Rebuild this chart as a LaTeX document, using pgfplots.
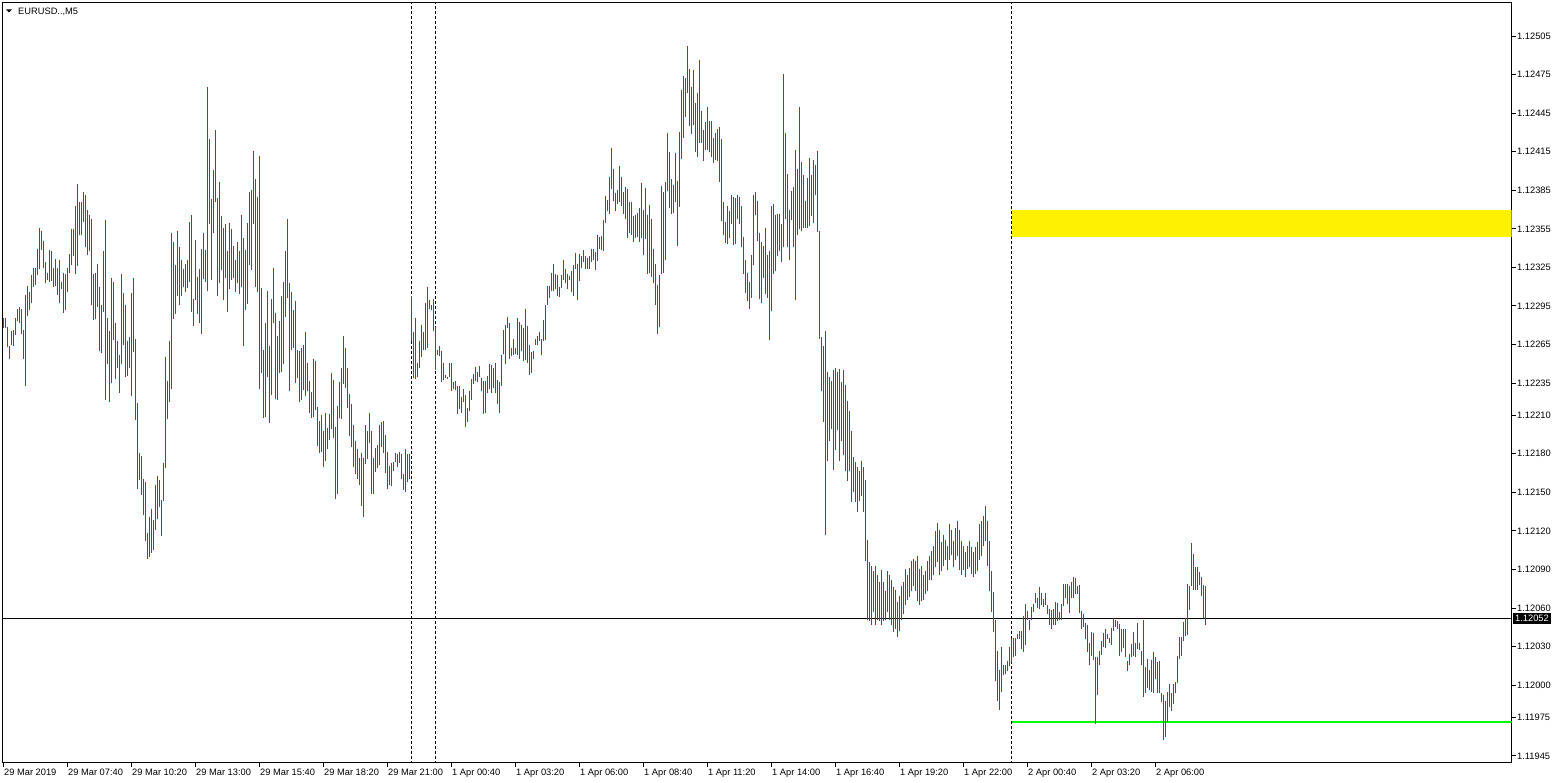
\documentclass[border=0pt]{standalone}
\usepackage{fontspec}
\setmainfont{Liberation Sans}
\usepackage{pgfplots}
\usepackage{pgfplotstable}
\pgfplotsset{compat=1.18}
\newcommand\tlfont{\fontsize{9.3}{11}\selectfont}

% EURUSD M5 bars: low high, one row per bar (bar index = row number)
\pgfplotstableread[row sep=\\]{
l h\\
1.12278 1.12286\\ 1.12278 1.12286\\ 1.12264 1.12280\\ 1.12255 1.12265\\ 1.12265 1.12276\\ 1.12265 1.12277\\ 1.12272 1.12286\\ 1.12283 1.12293\\
1.12282 1.12294\\ 1.12274 1.12293\\ 1.12254 1.12276\\ 1.12233 1.12304\\ 1.12288 1.12311\\ 1.12293 1.12307\\ 1.12297 1.12319\\ 1.12310 1.12325\\
1.12312 1.12325\\ 1.12320 1.12340\\ 1.12325 1.12357\\ 1.12339 1.12354\\ 1.12325 1.12346\\ 1.12314 1.12331\\ 1.12316 1.12322\\ 1.12314 1.12339\\
1.12316 1.12339\\ 1.12310 1.12325\\ 1.12311 1.12332\\ 1.12304 1.12325\\ 1.12297 1.12331\\ 1.12309 1.12315\\ 1.12290 1.12321\\ 1.12293 1.12321\\
1.12307 1.12326\\ 1.12321 1.12336\\ 1.12328 1.12356\\ 1.12335 1.12356\\ 1.12320 1.12373\\ 1.12327 1.12391\\ 1.12351 1.12377\\ 1.12351 1.12377\\
1.12360 1.12384\\ 1.12341 1.12382\\ 1.12335 1.12370\\ 1.12339 1.12367\\ 1.12296 1.12363\\ 1.12285 1.12321\\ 1.12286 1.12322\\ 1.12295 1.12329\\
1.12260 1.12310\\ 1.12260 1.12297\\ 1.12290 1.12338\\ 1.12223 1.12363\\ 1.12251 1.12287\\ 1.12222 1.12277\\ 1.12236 1.12318\\ 1.12269 1.12314\\
1.12240 1.12283\\ 1.12248 1.12269\\ 1.12229 1.12258\\ 1.12251 1.12321\\ 1.12265 1.12305\\ 1.12241 1.12297\\ 1.12241 1.12268\\ 1.12248 1.12272\\
1.12225 1.12305\\ 1.12260 1.12318\\ 1.12207 1.12270\\ 1.12153 1.12220\\ 1.12160 1.12181\\ 1.12148 1.12178\\ 1.12132 1.12160\\ 1.12113 1.12159\\
1.12099 1.12119\\ 1.12100 1.12131\\ 1.12104 1.12138\\ 1.12106 1.12129\\ 1.12121 1.12156\\ 1.12130 1.12163\\ 1.12139 1.12160\\ 1.12118 1.12146\\
1.12145 1.12174\\ 1.12169 1.12255\\ 1.12208 1.12238\\ 1.12220 1.12268\\ 1.12231 1.12352\\ 1.12286 1.12346\\ 1.12290 1.12328\\ 1.12304 1.12354\\
1.12297 1.12342\\ 1.12303 1.12331\\ 1.12311 1.12325\\ 1.12307 1.12329\\ 1.12309 1.12331\\ 1.12314 1.12360\\ 1.12290 1.12366\\ 1.12279 1.12300\\
1.12300 1.12346\\ 1.12290 1.12319\\ 1.12283 1.12325\\ 1.12274 1.12340\\ 1.12316 1.12352\\ 1.12314 1.12339\\ 1.12307 1.12466\\ 1.12360 1.12426\\
1.12317 1.12380\\ 1.12353 1.12402\\ 1.12377 1.12433\\ 1.12304 1.12380\\ 1.12313 1.12392\\ 1.12324 1.12366\\ 1.12300 1.12356\\ 1.12318 1.12360\\
1.12290 1.12338\\ 1.12309 1.12360\\ 1.12316 1.12356\\ 1.12318 1.12343\\ 1.12307 1.12332\\ 1.12314 1.12346\\ 1.12306 1.12339\\ 1.12311 1.12367\\
1.12265 1.12349\\ 1.12292 1.12339\\ 1.12297 1.12360\\ 1.12327 1.12384\\ 1.12324 1.12386\\ 1.12360 1.12417\\ 1.12311 1.12395\\ 1.12306 1.12380\\
1.12232 1.12413\\ 1.12244 1.12310\\ 1.12209 1.12262\\ 1.12209 1.12282\\ 1.12240 1.12307\\ 1.12205 1.12265\\ 1.12226 1.12301\\ 1.12283 1.12326\\
1.12223 1.12290\\ 1.12223 1.12273\\ 1.12244 1.12284\\ 1.12244 1.12303\\ 1.12250 1.12314\\ 1.12288 1.12339\\ 1.12302 1.12363\\ 1.12230 1.12314\\
1.12262 1.12307\\ 1.12264 1.12293\\ 1.12236 1.12300\\ 1.12240 1.12262\\ 1.12222 1.12262\\ 1.12222 1.12263\\ 1.12230 1.12265\\ 1.12226 1.12276\\
1.12230 1.12252\\ 1.12212 1.12237\\ 1.12209 1.12229\\ 1.12209 1.12254\\ 1.12214 1.12252\\ 1.12186 1.12216\\ 1.12181 1.12206\\ 1.12183 1.12212\\
1.12171 1.12199\\ 1.12176 1.12213\\ 1.12185 1.12201\\ 1.12192 1.12212\\ 1.12200 1.12244\\ 1.12193 1.12238\\ 1.12146 1.12202\\ 1.12149 1.12217\\
1.12209 1.12237\\ 1.12208 1.12248\\ 1.12234 1.12272\\ 1.12232 1.12263\\ 1.12216 1.12247\\ 1.12194 1.12227\\ 1.12187 1.12220\\ 1.12171 1.12203\\
1.12165 1.12191\\ 1.12160 1.12184\\ 1.12156 1.12177\\ 1.12139 1.12181\\ 1.12132 1.12178\\ 1.12173 1.12203\\ 1.12177 1.12199\\ 1.12188 1.12212\\
1.12149 1.12198\\ 1.12149 1.12177\\ 1.12166 1.12185\\ 1.12170 1.12188\\ 1.12172 1.12203\\ 1.12185 1.12205\\ 1.12181 1.12206\\ 1.12165 1.12195\\
1.12153 1.12182\\ 1.12156 1.12171\\ 1.12156 1.12174\\ 1.12167 1.12174\\ 1.12173 1.12180\\ 1.12170 1.12180\\ 1.12173 1.12181\\ 1.12162 1.12181\\
1.12153 1.12166\\ 1.12152 1.12185\\ 1.12159 1.12181\\ 1.12162 1.12181\\ 1.12268 1.12303\\ 1.12240 1.12276\\ 1.12239 1.12286\\ 1.12240 1.12251\\
1.12247 1.12268\\ 1.12257 1.12282\\ 1.12262 1.12276\\ 1.12262 1.12298\\ 1.12264 1.12311\\ 1.12293 1.12300\\ 1.12293 1.12297\\ 1.12276 1.12301\\
1.12246 1.12279\\ 1.12257 1.12261\\ 1.12257 1.12265\\ 1.12237 1.12261\\ 1.12237 1.12251\\ 1.12240 1.12242\\ 1.12239 1.12241\\ 1.12241 1.12252\\
1.12230 1.12252\\ 1.12230 1.12236\\ 1.12230 1.12237\\ 1.12212 1.12234\\ 1.12216 1.12234\\ 1.12212 1.12224\\ 1.12221 1.12231\\ 1.12202 1.12227\\
1.12206 1.12217\\ 1.12213 1.12229\\ 1.12222 1.12238\\ 1.12234 1.12242\\ 1.12237 1.12248\\ 1.12237 1.12245\\ 1.12240 1.12248\\ 1.12230 1.12240\\
1.12211 1.12237\\ 1.12212 1.12237\\ 1.12229 1.12242\\ 1.12231 1.12251\\ 1.12228 1.12250\\ 1.12233 1.12248\\ 1.12229 1.12252\\ 1.12219 1.12238\\
1.12212 1.12236\\ 1.12234 1.12258\\ 1.12258 1.12276\\ 1.12251 1.12282\\ 1.12278 1.12287\\ 1.12255 1.12283\\ 1.12257 1.12263\\ 1.12258 1.12270\\
1.12258 1.12263\\ 1.12258 1.12287\\ 1.12254 1.12283\\ 1.12260 1.12280\\ 1.12254 1.12279\\ 1.12254 1.12294\\ 1.12251 1.12280\\ 1.12241 1.12265\\
1.12244 1.12261\\ 1.12255 1.12261\\ 1.12265 1.12270\\ 1.12265 1.12272\\ 1.12268 1.12275\\ 1.12258 1.12270\\ 1.12268 1.12284\\ 1.12269 1.12296\\
1.12296 1.12311\\ 1.12302 1.12311\\ 1.12307 1.12321\\ 1.12307 1.12328\\ 1.12309 1.12321\\ 1.12303 1.12319\\ 1.12303 1.12311\\ 1.12309 1.12319\\
1.12316 1.12331\\ 1.12314 1.12325\\ 1.12309 1.12321\\ 1.12316 1.12319\\ 1.12306 1.12322\\ 1.12304 1.12328\\ 1.12325 1.12338\\ 1.12300 1.12328\\
1.12314 1.12335\\ 1.12325 1.12334\\ 1.12330 1.12339\\ 1.12325 1.12335\\ 1.12325 1.12333\\ 1.12325 1.12335\\ 1.12330 1.12340\\ 1.12332 1.12340\\
1.12324 1.12338\\ 1.12330 1.12350\\ 1.12341 1.12350\\ 1.12339 1.12350\\ 1.12339 1.12363\\ 1.12360 1.12381\\ 1.12369 1.12378\\ 1.12367 1.12396\\
1.12387 1.12419\\ 1.12377 1.12402\\ 1.12370 1.12384\\ 1.12374 1.12385\\ 1.12377 1.12405\\ 1.12374 1.12396\\ 1.12367 1.12384\\ 1.12363 1.12388\\
1.12349 1.12387\\ 1.12353 1.12377\\ 1.12351 1.12377\\ 1.12346 1.12366\\ 1.12349 1.12367\\ 1.12349 1.12368\\ 1.12346 1.12373\\ 1.12348 1.12391\\
1.12335 1.12370\\ 1.12348 1.12388\\ 1.12321 1.12367\\ 1.12321 1.12374\\ 1.12318 1.12363\\ 1.12313 1.12340\\ 1.12297 1.12329\\ 1.12274 1.12312\\
1.12279 1.12319\\ 1.12320 1.12388\\ 1.12321 1.12384\\ 1.12332 1.12393\\ 1.12385 1.12430\\ 1.12372 1.12416\\ 1.12366 1.12393\\ 1.12367 1.12389\\
1.12376 1.12414\\ 1.12342 1.12393\\ 1.12372 1.12430\\ 1.12409 1.12463\\ 1.12427 1.12475\\ 1.12443 1.12473\\ 1.12462 1.12498\\ 1.12436 1.12480\\
1.12430 1.12466\\ 1.12436 1.12479\\ 1.12416 1.12454\\ 1.12411 1.12461\\ 1.12423 1.12487\\ 1.12422 1.12447\\ 1.12409 1.12433\\ 1.12416 1.12438\\
1.12416 1.12450\\ 1.12416 1.12440\\ 1.12412 1.12440\\ 1.12408 1.12427\\ 1.12409 1.12430\\ 1.12409 1.12434\\ 1.12392 1.12435\\ 1.12362 1.12426\\
1.12351 1.12377\\ 1.12344 1.12360\\ 1.12344 1.12374\\ 1.12349 1.12370\\ 1.12360 1.12382\\ 1.12344 1.12381\\ 1.12344 1.12380\\ 1.12363 1.12381\\
1.12359 1.12380\\ 1.12342 1.12374\\ 1.12320 1.12349\\ 1.12306 1.12332\\ 1.12299 1.12321\\ 1.12293 1.12314\\ 1.12302 1.12336\\ 1.12326 1.12381\\
1.12366 1.12384\\ 1.12346 1.12377\\ 1.12302 1.12353\\ 1.12299 1.12346\\ 1.12317 1.12342\\ 1.12306 1.12357\\ 1.12302 1.12335\\ 1.12269 1.12338\\
1.12292 1.12374\\ 1.12321 1.12375\\ 1.12323 1.12367\\ 1.12335 1.12368\\ 1.12338 1.12367\\ 1.12330 1.12360\\ 1.12342 1.12477\\ 1.12363 1.12430\\
1.12341 1.12398\\ 1.12331 1.12370\\ 1.12363 1.12386\\ 1.12341 1.12388\\ 1.12300 1.12417\\ 1.12351 1.12402\\ 1.12356 1.12451\\ 1.12353 1.12407\\
1.12357 1.12398\\ 1.12356 1.12377\\ 1.12356 1.12395\\ 1.12359 1.12412\\ 1.12366 1.12398\\ 1.12360 1.12409\\ 1.12383 1.12406\\ 1.12353 1.12416\\
1.12269 1.12353\\ 1.12230 1.12272\\ 1.12206 1.12265\\ 1.12117 1.12276\\ 1.12175 1.12245\\ 1.12191 1.12241\\ 1.12199 1.12237\\ 1.12167 1.12245\\
1.12183 1.12247\\ 1.12199 1.12244\\ 1.12175 1.12247\\ 1.12191 1.12237\\ 1.12179 1.12245\\ 1.12167 1.12234\\ 1.12160 1.12222\\ 1.12167 1.12214\\
1.12144 1.12199\\ 1.12152 1.12179\\ 1.12144 1.12175\\ 1.12136 1.12171\\ 1.12144 1.12167\\ 1.12148 1.12175\\ 1.12136 1.12171\\ 1.12097 1.12160\\
1.12051 1.12113\\ 1.12051 1.12097\\ 1.12047 1.12093\\ 1.12058 1.12090\\ 1.12047 1.12093\\ 1.12051 1.12086\\ 1.12051 1.12082\\ 1.12047 1.12090\\
1.12051 1.12082\\ 1.12051 1.12074\\ 1.12058 1.12090\\ 1.12051 1.12086\\ 1.12047 1.12082\\ 1.12043 1.12078\\ 1.12044 1.12074\\ 1.12039 1.12066\\
1.12043 1.12070\\ 1.12051 1.12078\\ 1.12057 1.12082\\ 1.12062 1.12090\\ 1.12066 1.12086\\ 1.12070 1.12093\\ 1.12074 1.12097\\ 1.12078 1.12099\\
1.12074 1.12097\\ 1.12066 1.12101\\ 1.12062 1.12090\\ 1.12066 1.12093\\ 1.12066 1.12086\\ 1.12072 1.12090\\ 1.12074 1.12097\\ 1.12082 1.12101\\
1.12083 1.12105\\ 1.12086 1.12109\\ 1.12093 1.12121\\ 1.12097 1.12127\\ 1.12086 1.12121\\ 1.12090 1.12113\\ 1.12093 1.12117\\ 1.12097 1.12113\\
1.12090 1.12109\\ 1.12097 1.12125\\ 1.12101 1.12121\\ 1.12093 1.12113\\ 1.12097 1.12122\\ 1.12101 1.12128\\ 1.12090 1.12121\\ 1.12086 1.12113\\
1.12090 1.12109\\ 1.12086 1.12105\\ 1.12091 1.12109\\ 1.12093 1.12113\\ 1.12088 1.12109\\ 1.12086 1.12105\\ 1.12088 1.12109\\ 1.12090 1.12113\\
1.12097 1.12125\\ 1.12101 1.12128\\ 1.12109 1.12132\\ 1.12113 1.12140\\ 1.12093 1.12128\\ 1.12074 1.12113\\ 1.12058 1.12090\\ 1.12043 1.12074\\
1.12004 1.12051\\ 1.11988 1.12027\\ 1.11981 1.12012\\ 1.11995 1.12030\\ 1.12008 1.12016\\ 1.12009 1.12016\\ 1.12012 1.12020\\ 1.12015 1.12030\\
1.12019 1.12037\\ 1.12022 1.12037\\ 1.12023 1.12037\\ 1.12036 1.12040\\ 1.12036 1.12043\\ 1.12028 1.12042\\ 1.12027 1.12055\\ 1.12032 1.12064\\
1.12051 1.12058\\ 1.12044 1.12052\\ 1.12051 1.12061\\ 1.12058 1.12064\\ 1.12065 1.12073\\ 1.12061 1.12069\\ 1.12061 1.12078\\ 1.12063 1.12073\\
1.12062 1.12068\\ 1.12063 1.12073\\ 1.12057 1.12064\\ 1.12047 1.12059\\ 1.12044 1.12059\\ 1.12047 1.12059\\ 1.12047 1.12065\\ 1.12051 1.12065\\
1.12052 1.12058\\ 1.12052 1.12065\\ 1.12062 1.12079\\ 1.12068 1.12079\\ 1.12064 1.12079\\ 1.12057 1.12078\\ 1.12069 1.12082\\ 1.12068 1.12085\\
1.12072 1.12085\\ 1.12072 1.12079\\ 1.12057 1.12079\\ 1.12045 1.12059\\ 1.12045 1.12055\\ 1.12037 1.12050\\ 1.12027 1.12048\\ 1.12016 1.12033\\
1.12023 1.12041\\ 1.12020 1.12041\\ 1.11971 1.12023\\ 1.11993 1.12023\\ 1.12016 1.12027\\ 1.12023 1.12034\\ 1.12030 1.12041\\ 1.12030 1.12045\\
1.12037 1.12041\\ 1.12033 1.12037\\ 1.12032 1.12045\\ 1.12042 1.12052\\ 1.12047 1.12052\\ 1.12045 1.12051\\ 1.12023 1.12048\\ 1.12027 1.12045\\
1.12030 1.12045\\ 1.12023 1.12045\\ 1.12012 1.12020\\ 1.12016 1.12024\\ 1.12022 1.12032\\ 1.12023 1.12041\\ 1.12022 1.12033\\ 1.12028 1.12048\\
1.12027 1.12033\\ 1.12016 1.12027\\ 1.11991 1.12051\\ 1.11995 1.12015\\ 1.11999 1.12021\\ 1.11998 1.12013\\ 1.11995 1.12020\\ 1.11995 1.12027\\
1.12006 1.12023\\ 1.11995 1.12019\\ 1.11994 1.12019\\ 1.11988 1.11995\\ 1.11959 1.11994\\ 1.11960 1.11988\\ 1.11971 1.11995\\ 1.11984 1.12002\\
1.11981 1.11995\\ 1.11987 1.12002\\ 1.11994 1.12003\\ 1.12002 1.12023\\ 1.12021 1.12038\\ 1.12023 1.12038\\ 1.12036 1.12051\\ 1.12039 1.12053\\
1.12039 1.12079\\ 1.12060 1.12079\\ 1.12079 1.12112\\ 1.12075 1.12103\\ 1.12075 1.12093\\ 1.12075 1.12093\\ 1.12079 1.12089\\ 1.12070 1.12085\\
1.12053 1.12079\\ 1.12048 1.12079\\
}\bars

\begin{document}
\begin{tikzpicture}
\useasboundingbox (0pt,0pt) rectangle (1557pt,-783pt);
\begin{axis}[
  at={(2.5pt,-762.5pt)}, anchor=south west,
  scale only axis, width=1509pt, height=760pt,
  xmin=-0.5, xmax=754, ymin=1.119398, ymax=1.125311,
  axis line style={black, line width=1pt},
  tick style={black, line width=1pt},
  major tick length=4pt,
  tick align=outside,
  xtick pos=bottom, ytick pos=right, yticklabel pos=right,
  ticklabel style={font=\tlfont, text=black},
  xtick={0,32,...,576},
  xticklabels={29 Mar 2019,29 Mar 07:40,29 Mar 10:20,29 Mar 13:00,29 Mar 15:40,29 Mar 18:20,29 Mar 21:00,1 Apr 00:40,1 Apr 03:20,1 Apr 06:00,1 Apr 08:40,1 Apr 11:20,1 Apr 14:00,1 Apr 16:40,1 Apr 19:20,1 Apr 22:00,2 Apr 00:40,2 Apr 03:20,2 Apr 06:00},
  xticklabel style={anchor=north west, inner sep=0pt, xshift=0.5pt, yshift=-2.5pt},
  ytick={1.11945,1.11975,1.12000,1.12030,1.12060,1.12090,1.12120,1.12150,1.12180,1.12210,1.12235,1.12265,1.12295,1.12325,1.12355,1.12385,1.12415,1.12445,1.12475,1.12505},
  yticklabels={1.11945,1.11975,1.12000,1.12030,1.12060,1.12090,1.12120,1.12150,1.12180,1.12210,1.12235,1.12265,1.12295,1.12325,1.12355,1.12385,1.12415,1.12445,1.12475,1.12505},
  yticklabel style={anchor=west, inner sep=0pt, xshift=1.5pt},
]
% yellow zone
\fill[yellow] (axis cs:504.25,1.12349) rectangle (axis cs:760,1.12370);
% period separators
\addplot[black, line width=1pt, dash pattern=on 3pt off 2pt] coordinates {(204,1.1190) (204,1.1256)};
\addplot[black, line width=1pt, dash pattern=on 3pt off 2pt] coordinates {(216,1.1190) (216,1.1256)};
\addplot[black, line width=1pt, dash pattern=on 3pt off 2pt] coordinates {(504,1.1190) (504,1.1256)};
% current price and support line
\addplot[black, line width=1pt] coordinates {(-1,1.12052) (760,1.12052)};
\addplot[green, line width=2pt] coordinates {(504,1.11971) (760,1.11971)};
% high-low bars
\addplot[draw=none, mark=none, error bars/.cd, y dir=both, y explicit, error mark=none,
  error bar style={draw=red, line width=1pt}]
  table[x expr=\coordindex, y expr=(\thisrow{h}+\thisrow{l})/2, y error expr=(\thisrow{h}-\thisrow{l})/2] {\bars};
\coordinate (pl) at (axis cs:754,1.12052);
\end{axis}
\node[fill=black, text=white, font=\tlfont, anchor=west, inner xsep=2pt, inner ysep=2pt] at ([xshift=1.5pt]pl) {1.12052};
\fill[black] (6pt,-9.5pt) -- (12pt,-9.5pt) -- (9pt,-12.5pt) -- cycle;
\node[anchor=base west, inner sep=0pt, font=\tlfont] at (18pt,-15pt) {EURUSD..,M5};
\end{tikzpicture}
\end{document}
